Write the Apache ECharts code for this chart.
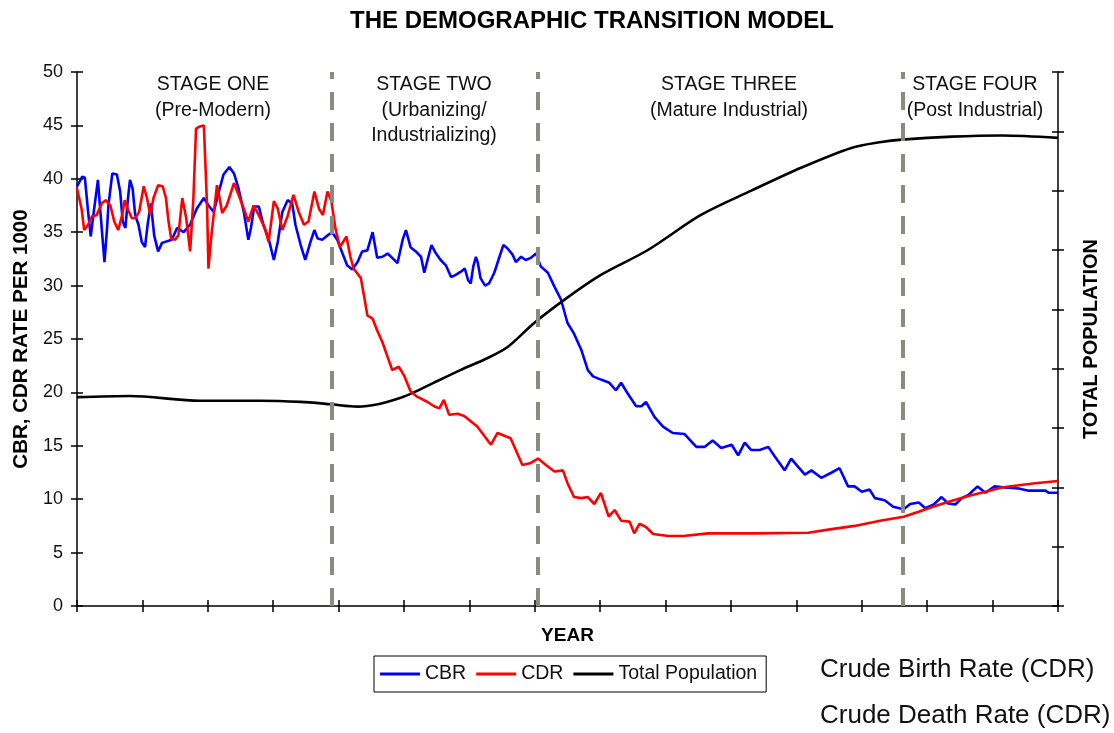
<!DOCTYPE html>
<html><head><meta charset="utf-8">
<script src="https://cdn.jsdelivr.net/npm/echarts@6/dist/echarts.min.js"></script>
<style>html,body{margin:0;padding:0;background:#fff}#c{width:1114px;height:733px}</style>
</head><body><div id="c"></div>
<script>
// x = year index (0..150), y = rate per 1000
const cbrPoints = [[0,39.3],[0.8,40.2],[1.2,40.1],[1.7,36.9],[2.1,34.6],[2.5,36.6],[3.2,39.9],[3.5,37.5],[4.2,32.2],[4.6,35.4],[4.8,37.5],[5.4,40.5],[6.1,40.4],[6.6,38.8],[7.0,36.0],[7.4,35.4],[7.8,38.2],[8.1,39.9],[8.5,39.1],[8.9,36.6],[9.4,35.7],[9.9,34.1],[10.4,33.6],[10.8,35.7],[11.3,37.7],[11.8,34.7],[12.4,33.2],[13.0,34.0],[14.5,34.3],[15.3,35.4],[16.3,35.0],[17.3,35.7],[18.3,37.2],[19.4,38.2],[20.1,37.5],[20.9,36.9],[21.7,38.8],[22.4,40.4],[23.3,41.1],[24.0,40.5],[24.7,39.1],[25.5,36.9],[26.2,34.3],[26.6,35.4],[27.1,37.4],[27.8,37.4],[28.5,35.7],[29.3,34.4],[30.1,32.4],[30.7,34.1],[31.4,36.9],[32.2,38.0],[32.9,37.7],[33.4,35.7],[34.2,33.8],[34.9,32.4],[35.7,34.1],[36.3,35.2],[36.8,34.4],[37.5,34.3],[38.3,34.7],[39.0,35.0],[39.8,34.3],[40.6,33.0],[41.3,31.9],[42.1,31.5],[42.9,32.2],[43.6,33.2],[44.4,33.3],[45.2,35.0],[45.9,32.6],[46.7,32.7],[47.5,33.0],[48.2,32.6],[49.0,32.1],[49.8,34.3],[50.3,35.2],[51.0,33.6],[51.8,33.2],[52.6,32.7],[53.1,31.2],[53.6,32.4],[54.2,33.8],[54.9,33.0],[55.6,32.4],[56.4,31.9],[57.2,30.8],[57.9,31.0],[58.7,31.3],[59.3,31.6],[59.8,30.5],[60.2,30.2],[60.6,31.8],[61.0,32.7],[61.3,32.1],[61.7,30.7],[62.4,30.0],[63.0,30.2],[63.8,31.2],[64.6,32.7],[65.2,33.8],[65.8,33.5],[66.6,32.9],[67.1,32.2],[67.9,32.7],[68.6,32.4],[69.4,32.6],[70.2,33.0],[70.9,31.8],[72.0,31.2],[73.0,29.9],[74.0,28.7],[75.0,26.5],[76.0,25.5],[77.1,24.0],[78.1,22.1],[78.9,21.5],[80.1,21.2],[81.4,20.9],[82.4,20.2],[83.2,20.9],[84.2,19.9],[85.5,18.7],[86.3,18.7],[87.0,19.1],[88.3,17.7],[89.6,16.8],[91.1,16.2],[92.9,16.1],[94.7,14.9],[96.0,14.9],[97.2,15.5],[98.5,14.8],[100.1,15.1],[101.1,14.1],[102.1,15.3],[103.1,14.6],[104.4,14.6],[105.7,14.9],[106.7,14.0],[108.2,12.7],[109.2,13.8],[110.3,13.0],[111.3,12.3],[112.3,12.7],[113.8,12.0],[115.4,12.5],[116.6,12.9],[117.9,11.2],[118.9,11.2],[120.0,10.7],[121.2,10.9],[122.0,10.1],[123.5,9.9],[124.8,9.3],[126.4,9.05],[127.4,9.55],[128.7,9.7],[129.7,9.15],[131.0,9.5],[132.2,10.2],[133.2,9.6],[134.3,9.5],[135.3,10.1],[136.3,10.4],[137.7,11.2],[138.9,10.6],[140.3,11.2],[141.9,11.1],[144.0,11.0],[145.5,10.8],[148.1,10.8],[148.6,10.6],[150,10.6]];
const cdrPoints = [[0,39.1],[0.7,37.2],[1.1,35.2],[1.7,35.7],[2.3,36.5],[3.0,36.6],[3.8,37.7],[4.4,38.0],[5.1,37.5],[5.7,36.0],[6.3,35.2],[6.9,36.6],[7.3,38.0],[7.8,37.1],[8.4,36.3],[8.9,36.3],[9.5,36.9],[10.2,39.3],[10.7,38.2],[11.2,36.6],[11.7,38.2],[12.4,39.4],[13.1,39.3],[13.6,38.2],[14.0,36.0],[14.4,34.4],[15.0,34.3],[15.5,34.7],[16.1,38.2],[16.7,36.3],[17.3,33.2],[17.8,38.2],[18.2,44.7],[18.8,44.9],[19.4,45.0],[19.6,41.9],[19.9,37.2],[20.1,31.6],[20.5,34.4],[20.9,36.6],[21.4,39.4],[21.8,38.2],[22.2,36.8],[22.9,37.5],[24.0,39.6],[24.7,38.5],[25.5,37.2],[26.2,36.0],[27.0,37.5],[27.8,36.6],[28.7,35.4],[29.3,34.1],[30.1,37.9],[30.7,37.2],[31.4,35.2],[32.2,36.5],[33.1,38.5],[33.9,36.9],[34.7,35.7],[35.4,36.0],[36.3,38.8],[37.0,37.2],[37.6,36.6],[38.3,38.8],[38.9,37.9],[39.5,35.4],[40.2,33.6],[41.2,34.6],[41.8,32.7],[42.3,31.6],[43.4,30.7],[43.9,29.0],[44.4,27.2],[45.2,26.9],[45.9,25.8],[46.7,24.7],[47.5,23.3],[48.2,22.1],[49.2,22.4],[50.0,21.6],[51.0,20.1],[52.0,19.6],[53.6,19.1],[54.6,18.7],[55.4,18.5],[56.1,19.3],[56.9,17.9],[58.2,18.0],[59.2,17.8],[61.2,16.8],[63.3,15.1],[64.3,16.2],[66.3,15.7],[68.1,13.2],[69.4,13.4],[70.5,13.8],[71.7,13.2],[73.0,12.6],[74.3,12.7],[75.0,11.5],[76.0,10.2],[77.1,10.1],[78.1,10.2],[79.1,9.55],[80.1,10.6],[81.3,8.36],[82.2,8.99],[83.2,7.99],[84.5,7.9],[85.2,6.8],[86.0,7.7],[87.0,7.4],[88.1,6.74],[90.4,6.55],[92.7,6.55],[96.5,6.8],[103.6,6.8],[111.8,6.86],[115.4,7.2],[118.9,7.5],[123.0,8.0],[126.4,8.36],[128.7,8.83],[131.2,9.36],[133.8,9.86],[136.3,10.3],[138.9,10.7],[141.4,11.1],[144.0,11.3],[146.5,11.5],[150,11.7]];
// total population (right axis, arbitrary units)
const popPoints = [[0,3.52],[8.1,3.54],[18.8,3.46],[28,3.46],[34.2,3.44],[38.8,3.40],[42.9,3.36],[46.0,3.40],[49.5,3.51],[51.5,3.60],[54.5,3.76],[58.7,3.98],[62.8,4.18],[65.9,4.37],[69.9,4.77],[74.5,5.16],[80.1,5.58],[87.3,6.0],[95.4,6.59],[103.1,7.0],[110.8,7.39],[118.4,7.72],[123.0,7.82],[126.1,7.86],[133.8,7.91],[141.4,7.93],[150,7.89]];
const stageBounds = [38.9, 70.5, 126.2];
const seriesNames = ['CBR', 'CDR', 'Total Population'];
const stageLabels = [
  ['STAGE ONE', '(Pre-Modern)'],
  ['STAGE TWO', '(Urbanizing/', 'Industrializing)'],
  ['STAGE THREE', '(Mature Industrial)'],
  ['STAGE FOUR', '(Post Industrial)']
];
const noteLines = ['Crude Birth Rate (CDR)', 'Crude Death Rate (CDR)'];

const FONT = '"Liberation Sans", Arial, sans-serif';
const chart = echarts.init(document.getElementById('c'));
const stageCenters = [213, 434, 729, 975];
const graphics = [];
graphics.push({type:'text', style:{text:'THE DEMOGRAPHIC TRANSITION MODEL', x:592, y:21, align:'center', verticalAlign:'middle', font:'bold 24px ' + FONT, fill:'#000'}});
stageLabels.forEach((lines, i) => {
  lines.forEach((t, j) => {
    graphics.push({type:'text', style:{text:t, x:stageCenters[i], y:85 + j*25.5, align:'center', verticalAlign:'middle', font:'19.5px ' + FONT, fill:'#111'}});
  });
});
noteLines.forEach((t, j) => {
  graphics.push({type:'text', style:{text:t, x:820, y:670 + j*46, align:'left', verticalAlign:'middle', font:'26px ' + FONT, fill:'#111'}});
});

const tickStyle = {color:'#000', width:1.5};
const option = {
  animation: false,
  backgroundColor: '#fff',
  grid: {left:77, right:56, top:72, bottom:127, containLabel:false},
  legend: {
    data: seriesNames, left:374, top:656, orient:'horizontal',
    borderColor:'#000', borderWidth:1, padding:[8,9,8,6], itemGap:10,
    icon:'rect', itemWidth:40, itemHeight:3,
    textStyle:{fontFamily:FONT, fontSize:19.5, color:'#111'}
  },
  xAxis: [
    {type:'value', min:0, max:150, interval:10, position:'bottom',
     axisLine:{onZero:false, lineStyle:tickStyle}, axisTick:{length:6, lineStyle:tickStyle},
     axisLabel:{show:false}, splitLine:{show:false},
     name:'YEAR', nameLocation:'middle', nameGap:20,
     nameTextStyle:{fontFamily:FONT, fontWeight:'bold', fontSize:19, color:'#000'}},
    {type:'value', min:0, max:150, interval:10, position:'bottom',
     axisLine:{show:false, onZero:false}, axisTick:{inside:true, length:6, lineStyle:tickStyle},
     axisLabel:{show:false}, splitLine:{show:false}}
  ],
  yAxis: [
    {type:'value', min:0, max:50, interval:5, position:'left',
     axisLine:{show:true, onZero:false, lineStyle:tickStyle}, axisTick:{show:true, length:6, lineStyle:tickStyle},
     axisLabel:{fontFamily:FONT, fontSize:18, color:'#111', margin:14}, splitLine:{show:false},
     name:'CBR, CDR RATE PER 1000', nameLocation:'middle', nameGap:44, nameRotate:90,
     nameTextStyle:{fontFamily:FONT, fontWeight:'bold', fontSize:20.5, color:'#000'}},
    {type:'value', min:0, max:9, interval:1, position:'right',
     axisLine:{show:true, onZero:false, lineStyle:tickStyle}, axisTick:{show:true, length:6, lineStyle:tickStyle},
     axisLabel:{show:false}, splitLine:{show:false},
     name:'TOTAL POPULATION', nameLocation:'middle', nameGap:23, nameRotate:90,
     nameTextStyle:{fontFamily:FONT, fontWeight:'bold', fontSize:20, color:'#000'}},
    {type:'value', min:0, max:50, interval:5, position:'left',
     axisLine:{show:false, onZero:false}, axisTick:{show:true, inside:true, length:6, lineStyle:tickStyle},
     axisLabel:{show:false}, splitLine:{show:false}},
    {type:'value', min:0, max:9, interval:1, position:'right',
     axisLine:{show:false, onZero:false}, axisTick:{show:true, inside:true, length:6, lineStyle:tickStyle},
     axisLabel:{show:false}, splitLine:{show:false}}
  ],
  series: [
    {type:'line', name:'stages', data:[], z:1, silent:true,
     markLine:{silent:true, symbol:'none', label:{show:false},
       lineStyle:{type:[18,13], color:'#8a8a80', width:4},
       data: stageBounds.map(v => ({xAxis:v}))}},
    {type:'line', name:seriesNames[0], data:cbrPoints, symbol:'none', z:3,
     lineStyle:{color:'#0000ff', width:2.6}, itemStyle:{color:'#0000ff'}},
    {type:'line', name:seriesNames[1], data:cdrPoints, symbol:'none', z:4,
     lineStyle:{color:'#ff0000', width:2.6}, itemStyle:{color:'#ff0000'}},
    {type:'line', name:seriesNames[2], data:popPoints, yAxisIndex:1, symbol:'none', z:3, smooth:0.3,
     lineStyle:{color:'#000000', width:2.6}, itemStyle:{color:'#000000'}}
  ],
  graphic: graphics
};
chart.setOption(option);
</script></body></html>
